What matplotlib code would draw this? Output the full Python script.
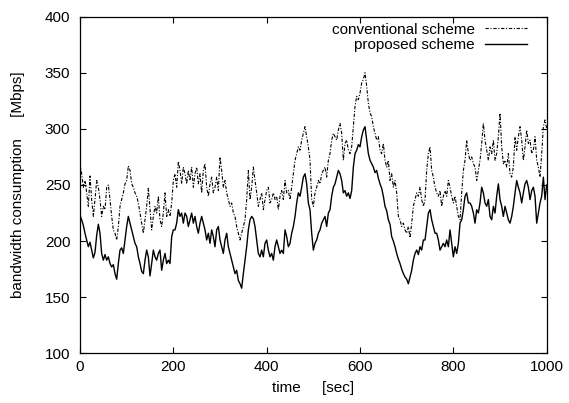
import matplotlib
matplotlib.use("Agg")
import matplotlib.pyplot as plt
import numpy as np

plt.rcParams['font.family'] = ['Liberation Sans', 'DejaVu Sans']

# readings taken every 1000/280 sec, from 0 to 1000 sec
PROPOSED = [
    # 0 - 243 sec
    223, 219, 214, 207, 201, 195, 199, 192, 185, 190, 205, 215, 207, 189, 183, 188, 183, 186, 180, 177,
    179, 171, 166, 180, 192, 194, 189, 201, 213, 222, 216, 210, 204, 198, 195, 186, 180, 173, 171, 183,
    192, 186, 169, 180, 192, 186, 183, 189, 192, 174, 183, 189, 180, 183, 180, 204, 210, 210, 216, 228,
    222, 225, 216, 225, 222, 213, 219, 225, 216,
    # 246 - 489 sec
    222, 213, 207, 216, 222, 216, 210, 201, 207, 198, 210, 204, 195, 210, 213, 201, 195, 189, 201, 207,
    195, 189, 183, 177, 171, 174, 165, 162, 158, 171, 183, 195, 210, 219, 222, 220, 213, 201, 189, 186,
    192, 186, 198, 201, 192, 186, 189, 183, 195, 201, 195, 189, 192, 189, 210, 204, 195, 198, 207, 213,
    222, 234, 243, 240, 248, 257, 260, 251, 234,
    # 493 - 736 sec
    228, 207, 192, 198, 201, 207, 210, 216, 219, 222, 213, 225, 228, 240, 248, 251, 257, 263, 260, 254,
    243, 245, 240, 243, 238, 245, 266, 278, 281, 286, 284, 293, 299, 302, 290, 278, 272, 269, 266, 261,
    263, 256, 251, 247, 240, 231, 227, 219, 215, 204, 200, 195, 189, 184, 180, 175, 171, 168, 166, 162,
    168, 174, 183, 189, 192, 188, 195, 192, 201,
    # 739 - 1000 sec
    201, 213, 225, 228, 219, 213, 207, 207, 201, 192, 195, 198, 195, 201, 195, 210, 198, 186, 195, 189,
    198, 216, 219, 228, 240, 243, 234, 234, 231, 225, 216, 228, 225, 234, 248, 243, 234, 231, 237, 222,
    219, 231, 225, 240, 251, 237, 231, 222, 231, 225, 219, 216, 222, 231, 243, 254, 248, 243, 234, 243,
    251, 254, 248, 237, 245, 248, 240, 216, 225, 234, 240, 257, 237, 250,
]

CONVENTIONAL = [
    # 0 - 243 sec
    269, 260, 248, 254, 243, 231, 258, 237, 222, 237, 254, 248, 237, 222, 231, 228, 248, 250, 237, 222,
    210, 207, 201, 213, 231, 237, 243, 251, 254, 267, 263, 251, 248, 243, 240, 234, 225, 216, 207, 219,
    231, 247, 228, 210, 222, 231, 225, 240, 219, 213, 225, 243, 222, 228, 222, 234, 254, 260, 248, 271,
    263, 251, 266, 260, 251, 263, 254, 266, 248,
    # 246 - 489 sec
    260, 266, 251, 260, 243, 263, 269, 248, 240, 251, 257, 243, 248, 257, 245, 275, 263, 248, 254, 243,
    237, 231, 234, 225, 222, 213, 207, 201, 207, 213, 219, 237, 263, 237, 248, 266, 254, 243, 231, 237,
    243, 228, 237, 245, 248, 234, 237, 243, 237, 240, 228, 240, 245, 237, 254, 243, 245, 237, 248, 260,
    272, 278, 284, 281, 290, 296, 302, 293, 284,
    # 493 - 736 sec
    272, 237, 231, 243, 248, 254, 251, 260, 263, 266, 257, 272, 278, 290, 296, 293, 290, 299, 305, 296,
    272, 287, 290, 281, 278, 284, 302, 320, 329, 326, 332, 341, 344, 350, 338, 323, 314, 311, 302, 296,
    290, 293, 281, 278, 287, 272, 266, 272, 254, 260, 248, 254, 243, 222, 219, 213, 216, 210, 207, 213,
    203, 216, 231, 237, 243, 240, 248, 237, 231,
    # 739 - 1000 sec
    237, 263, 278, 284, 263, 257, 248, 243, 240, 245, 231, 240, 245, 240, 254, 248, 240, 234, 240, 231,
    222, 219, 243, 263, 272, 290, 278, 272, 275, 269, 266, 254, 263, 272, 287, 305, 290, 281, 272, 284,
    278, 290, 272, 278, 293, 314, 284, 269, 272, 266, 278, 260, 257, 266, 293, 281, 293, 302, 290, 272,
    284, 299, 287, 290, 278, 281, 293, 272, 266, 257, 278, 302, 308, 300,
]

TIME = np.linspace(0, 1000, len(PROPOSED))

fig = plt.figure(figsize=(5.69, 4.03), dpi=100)
ax = fig.add_axes([0.1406, 0.1233, 0.8202, 0.8353])

ax.plot(TIME, CONVENTIONAL, color='k', linewidth=0.8,
        linestyle=(0, (3, 1.5, 1, 1.5)), label='conventional scheme')
ax.plot(TIME, PROPOSED, color='k', linewidth=1.0, label='proposed scheme')

ax.set_xlim(0, 1000)
ax.set_ylim(100, 400)
ax.set_xticks(np.arange(0, 1001, 200))
ax.set_yticks(np.arange(100, 401, 50))
ax.tick_params(direction='in', length=4, width=0.8, labelsize=11, top=True, right=True)
ax.tick_params(axis='y', pad=7)
ax.tick_params(axis='x', pad=5)
for s in ax.spines.values():
    s.set_linewidth(0.9)

ax.set_xlabel('time     [sec]', fontsize=11, labelpad=5)
ax.set_ylabel('bandwidth consumption     [Mbps]', fontsize=11, labelpad=14)

ax.legend(loc='upper right', bbox_to_anchor=(0.971, 1.0), frameon=False,
          markerfirst=False, fontsize=11, handlelength=2.75, handletextpad=0.65,
          labelspacing=0.1, borderaxespad=0)

fig.savefig('out.png', dpi=100)
